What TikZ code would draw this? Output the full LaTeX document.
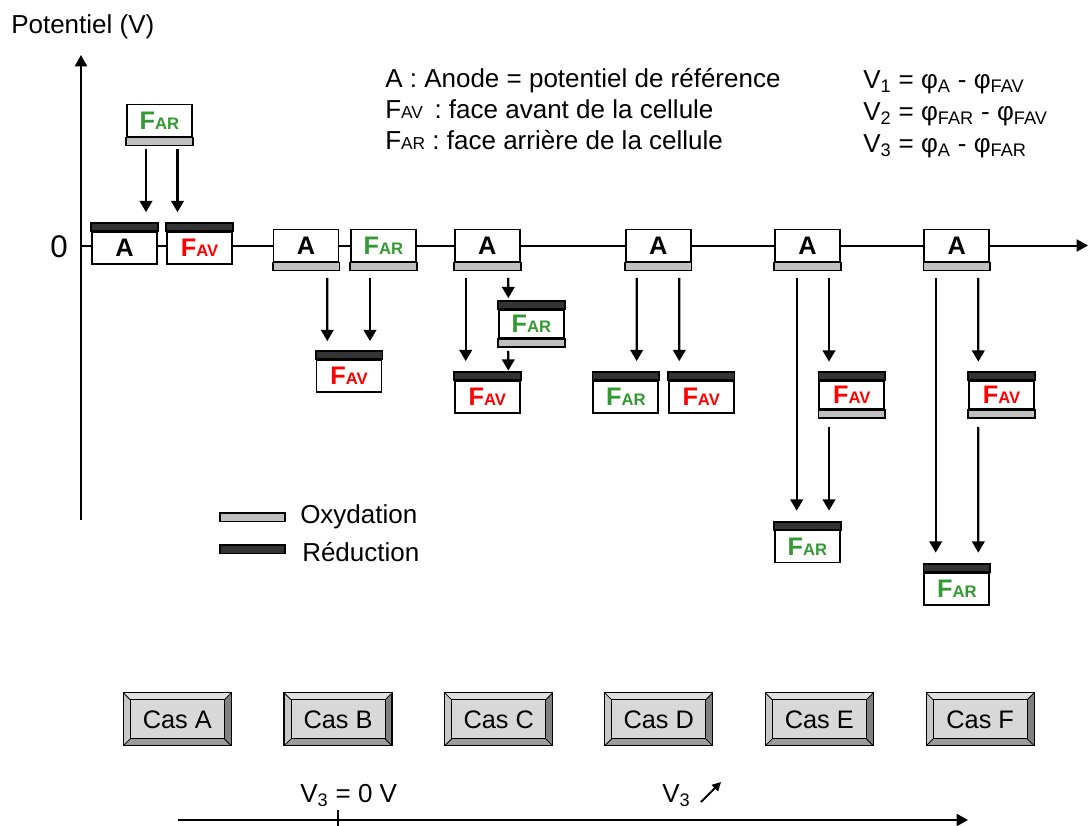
\documentclass[tikz,border=0pt]{standalone}
\usepackage{fontspec}
\setmainfont{Liberation Sans}
\usetikzlibrary{arrows.meta,calc}
\definecolor{fgreen}{RGB}{51,153,51}
\definecolor{fred}{RGB}{255,0,0}
\definecolor{redcol}{RGB}{51,51,51}
\definecolor{oxcol}{RGB}{192,192,192}
\definecolor{bevT}{RGB}{225,225,225}
\definecolor{bevL}{RGB}{200,200,200}
\definecolor{bevR}{RGB}{128,128,128}
\definecolor{bevB}{RGB}{155,155,155}
\definecolor{faceg}{RGB}{216,216,216}
\newcommand{\tF}{\fontsize{19.5}{22}\selectfont}
\newcommand{\sF}{\fontsize{13}{14}\selectfont}
\newcommand{\bF}{\fontsize{12.5}{14}\selectfont}
\newcommand{\lblFAR}{\textcolor{fgreen}{F{\bF AR}}}
\newcommand{\lblFAV}{\textcolor{fred}{F{\bF AV}}}
\newcommand{\topbar}[1]{\draw[redu] (#1.north west) rectangle ([shift={(0,-8)}]#1.north east);}
\newcommand{\botbar}[1]{\draw[oxy] (#1.south west) rectangle ([shift={(0,8)}]#1.south east);}
\tikzset{
  cell/.style={draw=black, line width=1.3pt, fill=white, minimum width=48.75pt,
    minimum height=24pt, inner sep=0pt, font=\bfseries\fontsize{19}{22}\selectfont},
  celltwo/.style={cell, minimum height=21pt},
  redu/.style={draw=black, line width=1.3pt, fill=redcol},
  oxy/.style={draw=black, line width=1.3pt, fill=oxcol},
  arr/.style={line width=1.6pt, -{Triangle[length=8.5pt,width=9.5pt]}},
  axisline/.style={line width=1.5pt, -{Triangle[length=8.5pt,width=9pt]}},
  txt/.style={inner sep=0pt, font=\tF},
  casbtn/.style={draw=black, line width=1pt, fill=faceg, minimum width=81pt,
    minimum height=39.75pt, inner sep=0pt, font=\fontsize{19}{20}\selectfont,
    path picture={
      \fill[bevT] (path picture bounding box.north west) -- (path picture bounding box.north east)
        -- ([shift={(-7,7)}]path picture bounding box.north east) -- ([shift={(7,7)}]path picture bounding box.north west) -- cycle;
      \fill[bevL] (path picture bounding box.north west) -- ([shift={(7,7)}]path picture bounding box.north west)
        -- ([shift={(7,-7)}]path picture bounding box.south west) -- (path picture bounding box.south west) -- cycle;
      \fill[bevR] (path picture bounding box.north east) -- ([shift={(-7,7)}]path picture bounding box.north east)
        -- ([shift={(-7,-7)}]path picture bounding box.south east) -- (path picture bounding box.south east) -- cycle;
      \fill[bevB] (path picture bounding box.south west) -- ([shift={(7,-7)}]path picture bounding box.south west)
        -- ([shift={(-7,-7)}]path picture bounding box.south east) -- (path picture bounding box.south east) -- cycle;
      \draw[line width=0.6pt] (path picture bounding box.north west) -- ([shift={(7,7)}]path picture bounding box.north west);
      \draw[line width=0.6pt] (path picture bounding box.north east) -- ([shift={(-7,7)}]path picture bounding box.north east);
      \draw[line width=0.6pt] (path picture bounding box.south west) -- ([shift={(7,-7)}]path picture bounding box.south west);
      \draw[line width=0.6pt] (path picture bounding box.south east) -- ([shift={(-7,-7)}]path picture bounding box.south east);
      \draw[line width=0.7pt] ([shift={(7,7)}]path picture bounding box.north west) rectangle ([shift={(-7,-7)}]path picture bounding box.south east);
    }},
}
\begin{document}
\begin{tikzpicture}[x=0.75pt,y=-0.75pt]
\useasboundingbox[fill=white] (0,0) rectangle (1088,825);

% axes
\coordinate (ybot) at (81,520);
\coordinate (ytop) at (81,55);
\coordinate (xleft) at (81,245.5);
\coordinate (xright) at (1088,245.5);
\draw[axisline] (ybot) -- (ytop);
\draw[axisline] (xleft) -- (xright);
\node[txt, anchor=base west] (ylab) at (11,33.3) {Potentiel (V)};
\node[inner sep=0pt, anchor=base, font=\fontsize{23.5}{24}\selectfont] (zero) at (59,257.7) {0};

% legend texts
\node[txt, anchor=base west] (t1) at (385,87) {A : Anode = potentiel de référence};
\node[txt, anchor=base west] (t2) at (385,118) {F{\sF AV}\ \,: face avant de la cellule};
\node[txt, anchor=base west] (t3) at (385,149) {F{\sF AR} : face arrière de la cellule};
\node[txt, anchor=base west] (v1) at (863,88) {V\textsubscript{1} = φ\textsubscript{A} - φ\textsubscript{FAV}};
\node[txt, anchor=base west] (v2) at (863,120) {V\textsubscript{2} = φ\textsubscript{FAR} - φ\textsubscript{FAV}};
\node[txt, anchor=base west] (v3) at (863,152) {V\textsubscript{3} = φ\textsubscript{A} - φ\textsubscript{FAR}};

% Case A
\node[cell] (Aa) at (124.5,248) {A}; \topbar{Aa}
\node[cell] (FAVa) at (199.5,248) {\lblFAV}; \topbar{FAVa}
\node[cell] (FARa) at (159.5,120.5) {\lblFAR}; \botbar{FARa}
\draw[arr] ($(FARa.south)+(-13.5,12)$) -- ($(Aa.north)+(21.5,-19)$);
\draw[arr] ($(FARa.south)+(18,12)$) -- ($(FAVa.north)+(-22,-19)$);

% Case B
\node[cell] (Ab) at (306,245.5) {A}; \botbar{Ab}
\node[cell] (FARb) at (383.5,245.5) {\lblFAR}; \botbar{FARb}
\node[cell] (FAVb) at (349,376) {\lblFAV}; \topbar{FAVb}
\draw[arr] ($(Ab.south)+(21.3,15.5)$) -- ($(FAVb.north)+(-21.7,-18)$);
\draw[arr] ($(FARb.south)+(-13.5,15.5)$) -- ($(FAVb.north)+(21,-18)$);

% Case C
\node[cell] (Ac) at (487.3,245.5) {A}; \botbar{Ac}
\node[cell] (FAVc) at (487.3,397) {\lblFAV}; \topbar{FAVc}
\node[celltwo] (FARc) at (531.5,324) {\lblFAR}; \topbar{FARc} \botbar{FARc}
\draw[arr] ($(Ac.south)+(-21.6,15.5)$) -- ($(FAVc.north)+(-21.6,-19)$);
\draw[arr] ($(Ac.south)+(21,15.5)$) -- ($(FARc.north)+(-23.2,-11)$);
\draw[arr] ($(FARc.south)+(-23.2,12)$) -- ($(FAVc.north)+(21,-9.5)$);

% Case D
\node[cell] (Ad) at (658.2,245.5) {A}; \botbar{Ad}
\node[cell] (FARd) at (625.8,397) {\lblFAR}; \topbar{FARd}
\node[cell] (FAVd) at (701.2,397) {\lblFAV}; \topbar{FAVd}
\draw[arr] ($(Ad.south)+(-21.5,15.5)$) -- ($(FARd.north)+(10.9,-19)$);
\draw[arr] ($(Ad.south)+(21.1,15.5)$) -- ($(FAVd.north)+(-21.9,-19)$);

% Case E
\node[cell] (Ae) at (807.5,245.5) {A}; \botbar{Ae}
\node[celltwo] (FAVe) at (851.8,395) {\lblFAV}; \topbar{FAVe} \botbar{FAVe}
\node[cell] (FARe) at (807.5,546.5) {\lblFAR}; \topbar{FARe}
\draw[arr] ($(Ae.south)+(-10.8,15.5)$) -- ($(FARe.north)+(-10.8,-19)$);
\draw[arr] ($(Ae.south)+(21.5,15.5)$) -- ($(FAVe.north)+(-22.8,-18.5)$);
\draw[arr] ($(FAVe.south)+(-22.8,17)$) -- ($(FARe.north)+(21.5,-19)$);

% Case F
\node[cell] (Af) at (956.8,245.5) {A}; \botbar{Af}
\node[celltwo] (FAVf) at (1001.5,395) {\lblFAV}; \topbar{FAVf} \botbar{FAVf}
\node[cell] (FARf) at (956.8,589) {\lblFAR}; \topbar{FARf}
\draw[arr] ($(Af.south)+(-21.1,15.5)$) -- ($(FARf.north)+(-21.1,-19.5)$);
\draw[arr] ($(Af.south)+(21.5,15.5)$) -- ($(FAVf.north)+(-23.2,-18.5)$);
\draw[arr] ($(FAVf.south)+(-23.2,17)$) -- ($(FARf.north)+(21.5,-19.5)$);

% legend
\draw[oxy, line width=1pt] (220,513) rectangle (285,521.5);
\draw[redu, line width=1pt] (220,545) rectangle (285,553.5);
\node[txt, anchor=base west] (lox) at (300,523.5) {Oxydation};
\node[txt, anchor=base west] (lred) at (302,561.5) {Réduction};

% Cas buttons
\node[casbtn] (casA) at (177.3,719.3) {Cas A};
\node[casbtn] (casB) at (338,719.3) {Cas B};
\node[casbtn] (casC) at (498.7,719.3) {Cas C};
\node[casbtn] (casD) at (658.7,719.3) {Cas D};
\node[casbtn] (casE) at (819.3,719.3) {Cas E};
\node[casbtn] (casF) at (980.2,719.3) {Cas F};

% bottom V3 axis
\coordinate (bl) at (178,820);
\coordinate (br) at (968,820);
\draw[axisline] (bl) -- (br);
\coordinate (tk1) at (338,810);
\coordinate (tk2) at (338,826);
\draw[line width=0.8pt] (tk1) -- (tk2);
\node[txt, anchor=base west] (v30) at (300,802) {V\textsubscript{3} = 0 V};
\node[txt, anchor=base west] (v3up) at (662,802) {V\textsubscript{3}};
\coordinate (ua) at (701,802);
\coordinate (ub) at (721,782);
\draw[line width=1.5pt, -{Triangle[length=6.5pt,width=6.5pt]}] (ua) -- (ub);
\end{tikzpicture}
\end{document}
